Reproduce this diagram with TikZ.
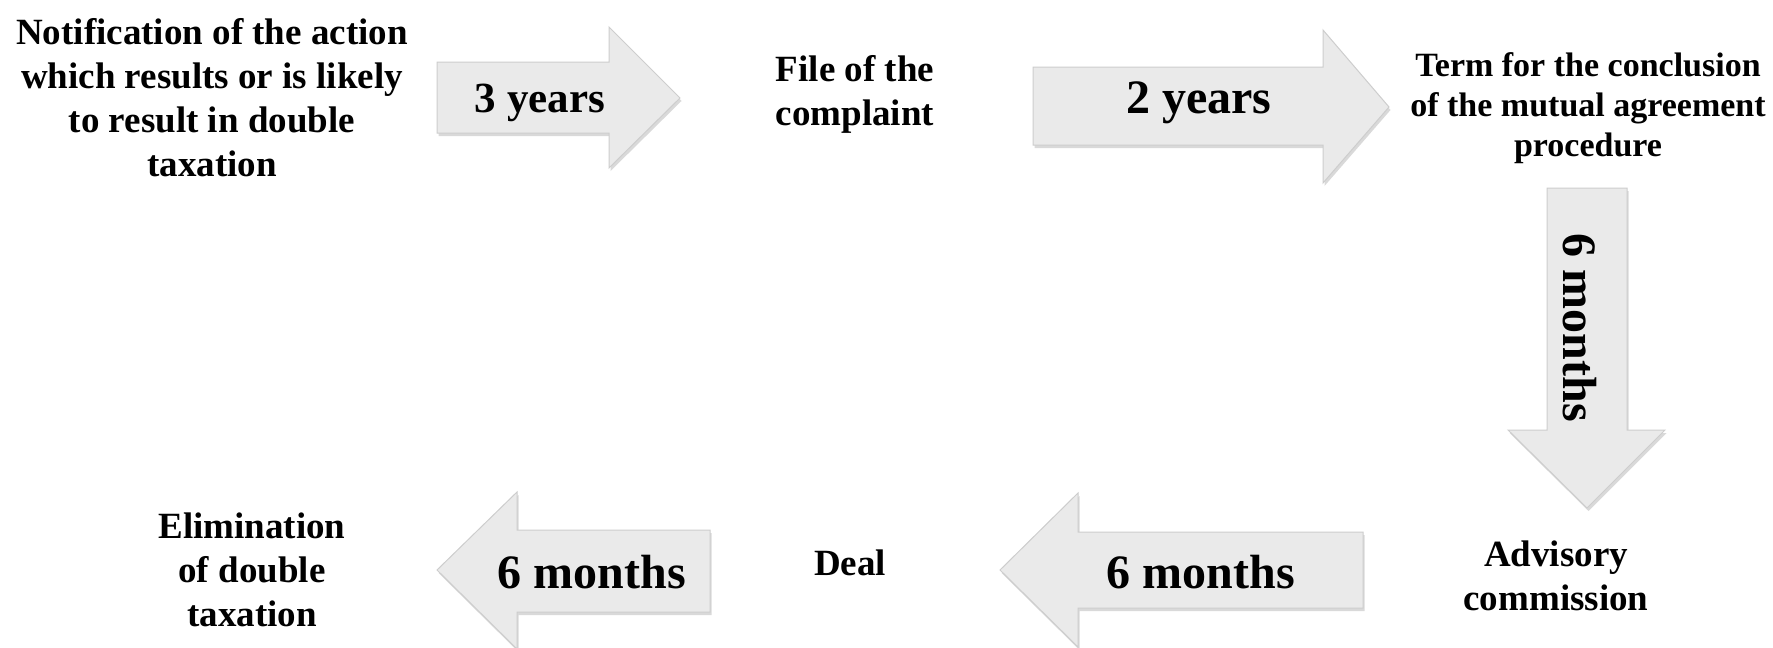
\documentclass[tikz,border=0pt]{standalone}
\usepackage{fontspec}
\setmainfont{Liberation Serif}
\usetikzlibrary{shadows}
\definecolor{arrowfill}{HTML}{EAEAEA}
\definecolor{arrowedge}{HTML}{CDCDCD}
\begin{document}
\begin{tikzpicture}[x=1pt,y=-1pt,
  arrowshape/.style={fill=arrowfill, draw=arrowedge, line width=1pt, line join=miter,
    drop shadow={shadow xshift=1.5pt, shadow yshift=-3pt, fill=black, opacity=0.15}},
  steplabel/.style={inner sep=0pt, align=center, font=\bfseries\fontsize{37}{44}\selectfont},
  termlabel/.style={inner sep=0pt, align=center, font=\bfseries\fontsize{34}{40}\selectfont},
  timelabel/.style={inner sep=0pt, font=\bfseries\fontsize{48}{52}\selectfont},
  smalltime/.style={inner sep=0pt, font=\bfseries\fontsize{43}{46}\selectfont}]
\useasboundingbox (0,0) rectangle (1773,648);

% arrows
\path[arrowshape] (437,62) -- (609,62) -- (609,27) -- (680,98) -- (609,168) -- (609,133) -- (437,133) -- cycle;
\path[arrowshape] (1033,67) -- (1323,67) -- (1323,30) -- (1389,107) -- (1323,183) -- (1323,145) -- (1033,145) -- cycle;
\path[arrowshape] (1547,188) -- (1627,188) -- (1627,430) -- (1665,430) -- (1587,508) -- (1508,430) -- (1547,430) -- cycle;
\path[arrowshape] (1363,532) -- (1363,608) -- (1078,608) -- (1078,647) -- (1000,570) -- (1078,493) -- (1078,532) -- cycle;
\path[arrowshape] (710,530) -- (710,612) -- (517,612) -- (517,649) -- (437,570) -- (517,492) -- (517,530) -- cycle;

% arrow labels
\node[smalltime, anchor=base] (t1) at (540,112) {3 years};
\node[timelabel, anchor=base] (t2) at (1199,113) {2 years};
\node[timelabel, rotate=-90] (t3) at (1580,328) {6 months};
\node[timelabel, anchor=base] (t4) at (1201,588) {6 months};
\node[timelabel, anchor=base] (t5) at (592,588) {6 months};

% step labels
\node[steplabel] (notif) at (212,97.5) {Notification of the action\\which results or is likely\\to result in double\\taxation};
\node[steplabel] (file) at (855,94.5) {File of the\\complaint};
\node[termlabel] (term) at (1588,108.5) {Term for the conclusion\\of the mutual agreement\\procedure};
\node[steplabel] (advis) at (1556,575.5) {Advisory\\commission};
\node[steplabel] (deal) at (850,563) {Deal};
\node[steplabel] (elim) at (252,570) {Elimination\\of double\\taxation};
\end{tikzpicture}
\end{document}
